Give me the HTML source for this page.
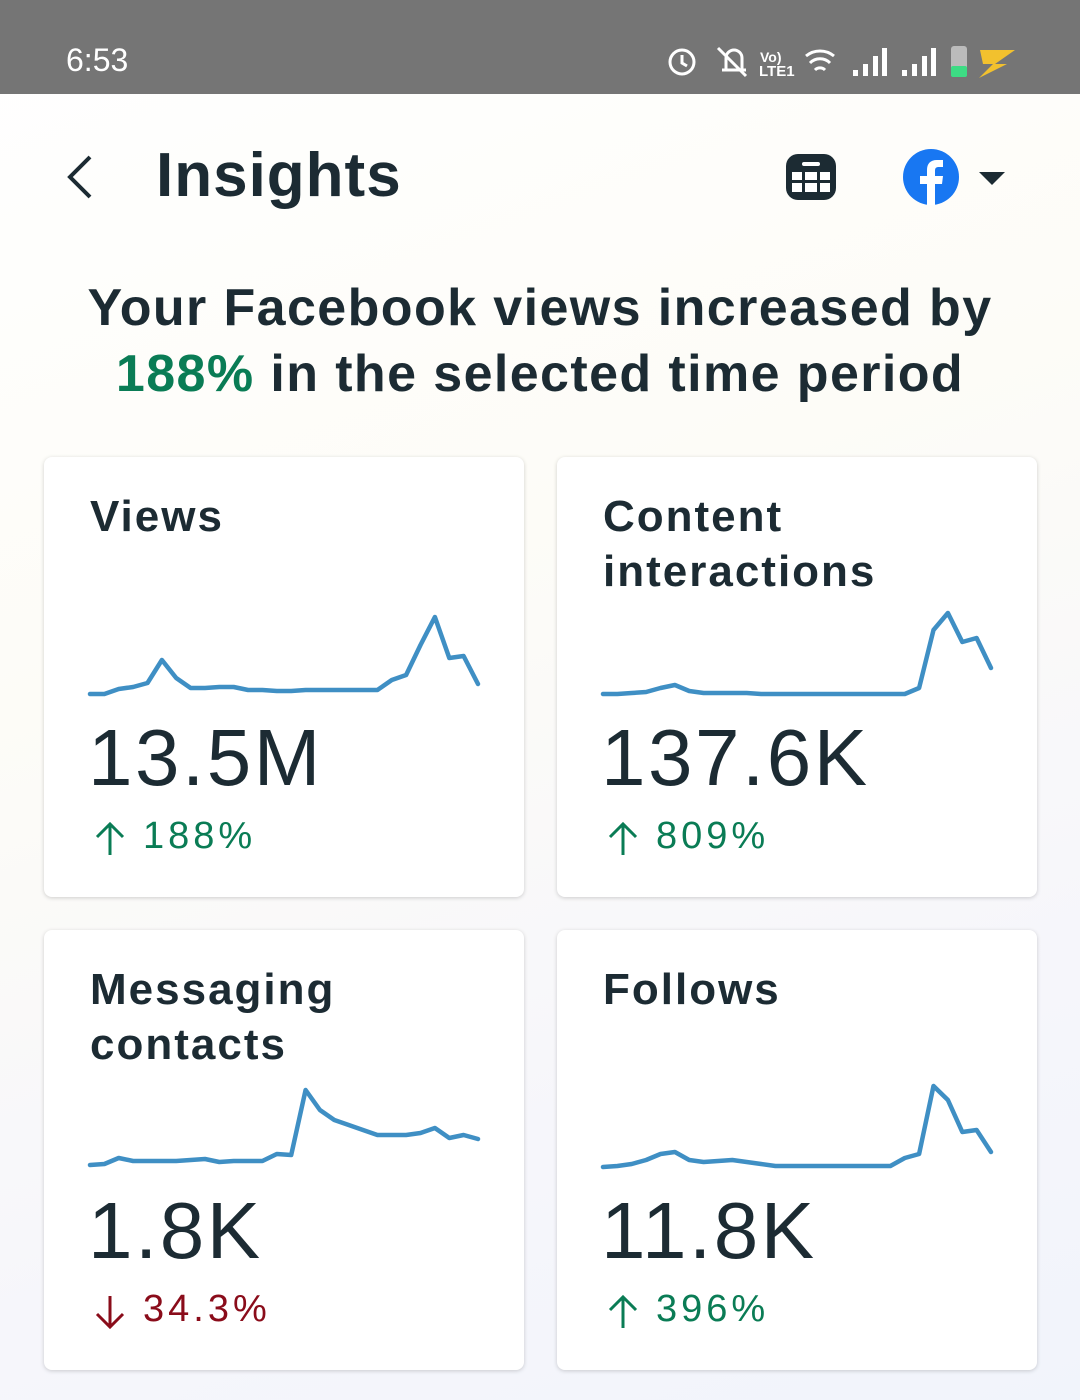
<!DOCTYPE html>
<html><head><meta charset="utf-8"><style>
body{margin:0;width:1080px;height:1400px;overflow:hidden;font-family:"Liberation Sans",sans-serif;background:linear-gradient(160deg,#fff 0%,#fdfcf7 40%,#f6f6fb 75%,#f1f4fb 100%);position:relative;color:#1c2b33}
.abs{position:absolute}
.status{left:0;top:0;width:1080px;height:94px;background:#757575;color:#fff}
.card{background:#fff;border-radius:8px;box-shadow:0 1px 4px rgba(0,0,0,.18);width:480px;height:440px}
.title{font-size:44px;font-weight:bold;line-height:55px;left:46px;top:32px;letter-spacing:2px;color:#1c2b33}
.val{font-size:80px;left:44px;letter-spacing:2.5px;color:#1c2b33}
.pct{font-size:38px;left:99px;letter-spacing:4px}
.arr{left:50px;top:364px}
</style></head><body>
<div class="abs status">
 <div class="abs" style="left:66px;top:42px;font-size:32px">6:53</div>
 <svg class="abs" style="left:660px;top:40px" width="360" height="42">
  <circle cx="22" cy="22" r="12" fill="none" stroke="#fff" stroke-width="3"/><path d="M22 15v8l5 3" stroke="#fff" stroke-width="3" fill="none"/>
  <path d="M62 30h24M66 30V18a8 8 0 0 1 16 0v12M58 8l28 28" stroke="#fff" stroke-width="3" fill="none"/>
  <text x="100" y="22" font-size="14" fill="#fff" font-weight="bold">Vo)</text><text x="99" y="36" font-size="15" fill="#fff" font-weight="bold">LTE1</text>
  <path d="M146 16a22 22 0 0 1 28 0M150 23a14 14 0 0 1 20 0M155 30a7 7 0 0 1 10 0" stroke="#fff" stroke-width="3" fill="none"/>
  <rect x="193" y="30" width="5" height="6" fill="#fff"/><rect x="203" y="24" width="5" height="12" fill="#fff"/><rect x="213" y="16" width="5" height="20" fill="#fff"/><rect x="222" y="8" width="5" height="28" fill="#fff"/>
  <rect x="242" y="30" width="5" height="6" fill="#fff"/><rect x="252" y="24" width="5" height="12" fill="#fff"/><rect x="262" y="16" width="5" height="20" fill="#fff"/><rect x="271" y="8" width="5" height="28" fill="#fff"/>
  <rect x="291" y="6" width="16" height="31" rx="3" fill="#bbb"/><rect x="291" y="26" width="16" height="11" rx="2" fill="#3ddc84"/>
  <path d="M320 10h35l-20 14h12l-28 14 14-14h-10z" fill="#f2c12e"/>
 </svg>
</div>
<svg class="abs" style="left:62px;top:152px" width="40" height="50"><path d="M28 5L8 25l20 20" stroke="#1c2b33" stroke-width="4" fill="none"/></svg>
<div class="abs" style="left:156px;top:140px;font-size:62px;font-weight:bold;letter-spacing:1px">Insights</div>
<svg class="abs" style="left:784px;top:152px" width="54" height="50"><rect x="2" y="2" width="50" height="46" rx="12" fill="#1c2b33"/><rect x="18" y="10" width="18" height="4" rx="2" fill="#fff"/><g fill="#fff"><rect x="8" y="20" width="10" height="8"/><rect x="21" y="20" width="12" height="8"/><rect x="36" y="20" width="10" height="8"/><rect x="8" y="31" width="10" height="9"/><rect x="21" y="31" width="12" height="9"/><rect x="36" y="31" width="10" height="9"/></g></svg>
<svg class="abs" style="left:902px;top:148px" width="110" height="58"><circle cx="29" cy="29" r="28" fill="#1877f2"/><path d="M33 57V36h7l1-8h-8v-5c0-3 1-4 4-4h4v-7h-6c-7 0-10 4-10 10v6h-7v8h7v21z" fill="#fff"/><path d="M77 24h26l-13 13z" fill="#1c2b33"/></svg>
<div class="abs" style="left:0;width:1080px;top:275px;text-align:center;font-size:52px;font-weight:bold;line-height:66px;letter-spacing:1.4px">Your Facebook views increased by<br><span style="color:#0a7c55">188%</span> in the selected time period</div>

<div class="abs card" style="left:44px;top:457px">
 <div class="abs title">Views</div>
 <svg class="abs" style="left:0;top:0" width="480" height="440" id="s0"></svg>
 <div class="abs val" style="top:255px">13.5M</div>
 <svg class="abs arr" width="34" height="36"><path d="M16 34V3M3 16L16 3l13 13" stroke="#0a7c55" stroke-width="3" fill="none"/></svg>
 <div class="abs pct" style="top:358px;color:#0a7c55">188%</div>
</div>
<div class="abs card" style="left:557px;top:457px">
 <div class="abs title">Content<br>interactions</div>
 <svg class="abs" style="left:0;top:0" width="480" height="440" id="s1"></svg>
 <div class="abs val" style="top:255px">137.6K</div>
 <svg class="abs arr" width="34" height="36"><path d="M16 34V3M3 16L16 3l13 13" stroke="#0a7c55" stroke-width="3" fill="none"/></svg>
 <div class="abs pct" style="top:358px;color:#0a7c55">809%</div>
</div>
<div class="abs card" style="left:44px;top:930px">
 <div class="abs title">Messaging<br>contacts</div>
 <svg class="abs" style="left:0;top:0" width="480" height="440" id="s2"></svg>
 <div class="abs val" style="top:255px">1.8K</div>
 <svg class="abs arr" width="34" height="36"><path d="M16 2v31M3 20l13 13 13-13" stroke="#8a0c1a" stroke-width="3" fill="none"/></svg>
 <div class="abs pct" style="top:358px;color:#8a0c1a">34.3%</div>
</div>
<div class="abs card" style="left:557px;top:930px">
 <div class="abs title">Follows</div>
 <svg class="abs" style="left:0;top:0" width="480" height="440" id="s3"></svg>
 <div class="abs val" style="top:255px">11.8K</div>
 <svg class="abs arr" width="34" height="36"><path d="M16 34V3M3 16L16 3l13 13" stroke="#0a7c55" stroke-width="3" fill="none"/></svg>
 <div class="abs pct" style="top:358px;color:#0a7c55">396%</div>
</div>
<script>
const viewsValues=[6,6,11,13,17,40,22,12,12,13,13,10,10,9,9,10,10,10,10,10,10,20,25,55,83,42,44,16];
const interactionsValues=[6,6,7,8,12,15,9,7,7,7,7,6,6,6,6,6,6,6,6,6,6,6,12,70,87,58,62,32];
const messagingValues=[5,6,12,9,9,9,9,10,11,8,9,9,9,16,15,80,60,50,45,40,35,35,35,37,42,32,35,31];
const followsValues=[3,4,6,10,16,18,10,8,9,10,8,6,4,4,4,4,4,4,4,4,4,12,16,84,70,38,40,18];
function draw(id,vals,baseY){
 const svg=document.getElementById(id);
 const x0=46,x1=434,n=vals.length;
 const xs=i=>x0+(x1-x0)*i/(n-1);
 const ys=v=>baseY-v;
 const d=vals.map((v,i)=>(i?'L':'M')+xs(i).toFixed(1)+' '+ys(v).toFixed(1)).join(' ');
 const p=document.createElementNS('http://www.w3.org/2000/svg','path');
 p.setAttribute('d',d);p.setAttribute('fill','none');p.setAttribute('stroke','#3f8fc4');
 p.setAttribute('stroke-width','4.5');p.setAttribute('stroke-linejoin','round');p.setAttribute('stroke-linecap','round');
 
 
 svg.appendChild(p);
}
draw('s0',viewsValues,243);
draw('s1',interactionsValues,243);
draw('s2',messagingValues,240);
draw('s3',followsValues,240);
</script>
</body></html>
